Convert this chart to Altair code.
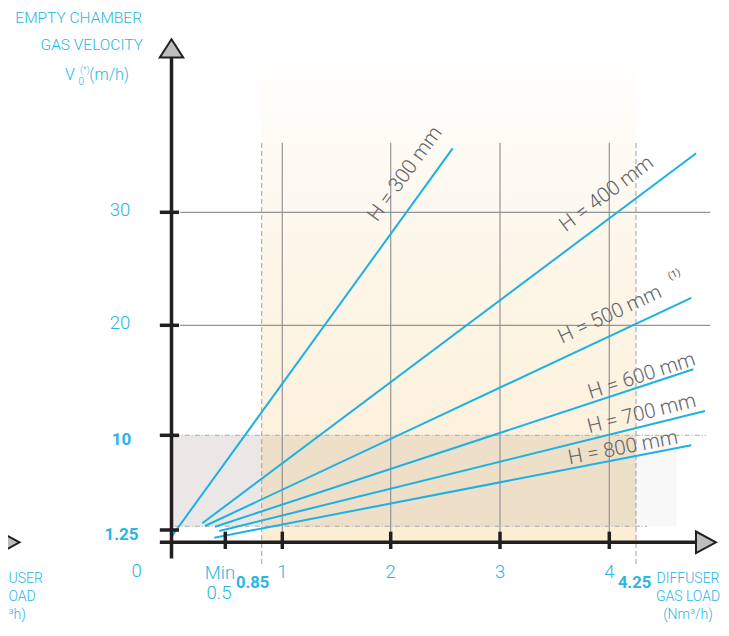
import altair as alt
import pandas as pd

# ---------------- data ----------------
series_names = ["H = 300 mm", "H = 400 mm", "H = 500 mm", "H = 600 mm", "H = 700 mm", "H = 800 mm"]
x_start = [0.0, 0.286, 0.311, 0.404, 0.444, 0.398]
y_start = [0.57, 1.87, 1.62, 1.55, 1.15, 0.47]
x_end = [2.567, 4.80, 4.756, 4.774, 4.881, 4.756]
y_end = [35.66, 35.22, 22.42, 16.0, 12.21, 9.08]

label_x = [2.131, 3.976, 4.006, 4.302, 4.302, 4.128]
label_y = [33.39, 31.62, 20.94, 15.39, 11.94, 8.83]
label_angle = [306, 323, 335, 342, 346, 349]

y_ticks_normal = [20, 30]
y_ticks_bold = [10, 1.25]
y_tick_all = [1.25, 10, 20, 30]
x_ticks = [0.5, 1, 2, 3, 4]
x_ticks_normal = [1, 2, 3, 4]

grid_x = [1, 2, 3, 4]
grid_y = [20, 30]
limit_x = [0.85, 4.25]        # min / max diffuser gas load
limit_y = [1.6, 10]           # recommended velocity band
top_y = 36.16
xmax_plot = 4.93

# ---------------- scales (piecewise, following the drawing) ----------------
xs = alt.Scale(domain=[-1.7, 0, 0.5, 0.85, 1, 2, 3, 4, 4.25, 5.3],
               range=[-22.3, 163.5, 217.3, 253.7, 274.3, 382.7, 492, 601.3, 628, 742.8],
               nice=False, zero=False)
ys = alt.Scale(domain=[-10, 0, 1.25, 10, 20, 30, 50],
               range=[629, 534.3, 522, 427.3, 317.3, 204.3, -21.7],
               nice=False, zero=False)


def X(f):
    return alt.X(f, type="quantitative", scale=xs, axis=None)


def Y(f):
    return alt.Y(f, type="quantitative", scale=ys, axis=None)


CYAN = "#29b5e6"
LINE = "#1cb1e4"
BLACK = "#231f20"
FONT = "Roboto"

# ---------------- background areas ----------------
beige = alt.Chart(pd.DataFrame({"x": [limit_x[0]], "x2": [limit_x[1]], "y": [0], "y2": [44.8]})).mark_rect(
    fill=alt.LinearGradient(gradient="linear",
                            stops=[alt.GradientStop(color="#ffffff", offset=0),
                                   alt.GradientStop(color="#fdf5e6", offset=0.5),
                                   alt.GradientStop(color="#fbeed5", offset=1)],
                            x1=0, x2=0, y1=0, y2=1)
).encode(x=X("x"), x2="x2", y=Y("y"), y2="y2")

band_df = pd.DataFrame({
    "x": [0, limit_x[0], limit_x[1]],
    "x2": [limit_x[0], limit_x[1], 4.62],
    "y": [limit_y[0]] * 3,
    "y2": [limit_y[1]] * 3,
    "c": ["#ebe7e6", "#eedfc8", "#f9f8f8"],
})
band = alt.Chart(band_df).mark_rect().encode(
    x=X("x"), x2="x2", y=Y("y"), y2="y2", color=alt.Color("c:N", scale=None))

# ---------------- grid ----------------
gx = alt.Chart(pd.DataFrame({"x": grid_x, "y": [0] * 4, "y2": [top_y] * 4})).mark_rule(
    color="#929497", strokeWidth=1.2).encode(x=X("x"), y=Y("y"), y2="y2")
gy = alt.Chart(pd.DataFrame({"y": grid_y, "x": [0.08] * 2, "x2": [xmax_plot] * 2})).mark_rule(
    color="#929497", strokeWidth=1.2).encode(y=Y("y"), x=X("x"), x2="x2")

dh = alt.Chart(pd.DataFrame({"y": [limit_y[1], limit_y[0]], "x": [0.03, 0.03], "x2": [4.89, 4.35]})).mark_rule(
    color="#a7a9ac", strokeWidth=1.1, strokeDash=[5, 2, 1, 2]).encode(y=Y("y"), x=X("x"), x2="x2")
dv = alt.Chart(pd.DataFrame({"x": limit_x, "y": [-2.3, -2.3], "y2": [top_y, top_y]})).mark_rule(
    color="#a7a9ac", strokeWidth=1.1, strokeDash=[5, 3]).encode(x=X("x"), y=Y("y"), y2="y2")

# ---------------- series ----------------
sdf = pd.DataFrame({"name": series_names, "x": x_start, "y": y_start, "x2": x_end, "y2": y_end})
lines = alt.Chart(sdf).mark_rule(color=LINE, strokeWidth=2).encode(
    x=X("x"), y=Y("y"), x2="x2", y2="y2")

ldf = pd.DataFrame({"name": series_names, "x": label_x, "y": label_y, "a": label_angle})
labels = alt.Chart(ldf).mark_text(font=FONT, fontSize=20.5, color="#636466", align="center",
                                  baseline="middle", fontWeight=300).encode(
    x=X("x"), y=Y("y"), text="name:N", angle=alt.Angle("a:Q", scale=None))
sup = alt.Chart(pd.DataFrame({"t": ["(1)"], "x": [4.60], "y": [24.5], "a": [335]})).mark_text(
    font=FONT, fontSize=10, color="#636466", align="center", baseline="middle").encode(
    x=X("x"), y=Y("y"), text="t:N", angle=alt.Angle("a:Q", scale=None))

# ---------------- axes ----------------
yaxis = alt.Chart(pd.DataFrame({"x": [0], "y": [-1.7], "y2": [44.5]})).mark_rule(
    color=BLACK, strokeWidth=3.5).encode(x=X("x"), y=Y("y"), y2="y2")
xaxis = alt.Chart(pd.DataFrame({"y": [0], "x": [-0.107], "x2": [4.89]})).mark_rule(
    color=BLACK, strokeWidth=3.5).encode(y=Y("y"), x=X("x"), x2="x2")
yt = alt.Chart(pd.DataFrame({"y": y_tick_all, "x": [-0.107] * 4, "x2": [0.07] * 4})).mark_rule(
    color=BLACK, strokeWidth=3.5).encode(y=Y("y"), x=X("x"), x2="x2")
xt = alt.Chart(pd.DataFrame({"x": x_ticks, "y": [-0.71] * 5, "y2": [1.08] * 5})).mark_rule(
    color=BLACK, strokeWidth=3.5).encode(x=X("x"), y=Y("y"), y2="y2")

up_arrow = alt.Chart(pd.DataFrame({"x": [0], "y": [44.5]})).mark_point(
    shape="M0,-0.78L1,0.78L-1,0.78Z", size=548, filled=True, fill="#bcbec0", stroke=BLACK,
    strokeWidth=2, opacity=1).encode(x=X("x"), y=Y("y"))
right_arrows = alt.Chart(pd.DataFrame({"x": [4.89, -1.482], "y": [0, 0]})).mark_point(
    shape="M0.925,0L-0.925,-1L-0.925,1Z", size=466, filled=True, fill="#bcbec0", stroke=BLACK,
    strokeWidth=2, opacity=1).encode(x=X("x"), y=Y("y"))

# ---------------- tick labels ----------------
yl_n = alt.Chart(pd.DataFrame({"y": y_ticks_normal, "t": ["20", "30"]})).mark_text(
    font=FONT, fontSize=18.5, color=CYAN, align="center", baseline="middle", dy=-2, fontWeight=300).encode(
    x=alt.value(112), y=Y("y"), text="t:N")
yl_b = alt.Chart(pd.DataFrame({"y": y_ticks_bold, "t": ["10", "1.25"]})).mark_text(
    font=FONT, fontSize=17, color=CYAN, align="center", baseline="middle", dy=5, fontWeight="bold").encode(
    x=alt.value(113.5), y=Y("y"), text="t:N")
xl_n = alt.Chart(pd.DataFrame({"x": x_ticks_normal, "t": ["1", "2", "3", "4"]})).mark_text(
    font=FONT, fontSize=18.5, color=CYAN, align="center", baseline="middle", fontWeight=300).encode(
    x=X("x"), y=alt.value(564), text="t:N")
xl_b1 = alt.Chart(pd.DataFrame({"x": [limit_x[0]], "t": ["0.85"]})).mark_text(
    font=FONT, fontSize=16.5, color=CYAN, align="center", baseline="middle", fontWeight="bold", dx=-9).encode(
    x=X("x"), y=alt.value(575), text="t:N")
xl_b2 = alt.Chart(pd.DataFrame({"x": [limit_x[1]], "t": ["4.25"]})).mark_text(
    font=FONT, fontSize=16.5, color=CYAN, align="center", baseline="middle", fontWeight="bold", dx=-1.5).encode(
    x=X("x"), y=alt.value(575), text="t:N")


def txt(t, x, y, size=16, align="left", weight=300):
    return alt.Chart(pd.DataFrame({"t": [t]})).mark_text(
        font=FONT, fontSize=size, color=CYAN, align=align, baseline="middle", fontWeight=weight).encode(
        x=alt.value(x), y=alt.value(y), text="t:N")


annots = [
    txt("EMPTY CHAMBER", 134, 10, 15.5, "right"),
    txt("GAS VELOCITY", 135, 37, 15.5, "right"),
    txt("V", 57, 67, 16),
    txt("0", 70.5, 74, 10),
    txt("(*)", 72, 62, 9),
    txt("(m/h)", 121, 67, 16, "right"),
    txt("0", 128.7, 563, 18.5, "center"),
    txt("Min", 212, 565, 18.5, "center"),
    txt("0.5", 211, 585, 18.5, "center"),
    txt("DIFFUSER", 680, 571, 14, "center"),
    txt("GAS LOAD", 680, 589, 14, "center"),
    txt("(Nm³/h)", 680, 607, 14, "center"),
    txt("USER", 0.5, 571, 14, "left"),
    txt("OAD", 0.5, 589, 14, "left"),
    txt("³h)", 0.5, 607, 14, "left"),
]

chart = alt.layer(
    beige, band, gx, gy, dh, dv, lines, labels, sup,
    yaxis, xaxis, yt, xt, up_arrow, right_arrows,
    yl_n, yl_b, xl_n, xl_b1, xl_b2, *annots
).properties(
    width=713, height=616, padding=0, autosize=alt.AutoSizeParams(type="none")
).configure_view(stroke=None)

chart.save("out.html", embed_options={"renderer": "svg", "actions": False})
